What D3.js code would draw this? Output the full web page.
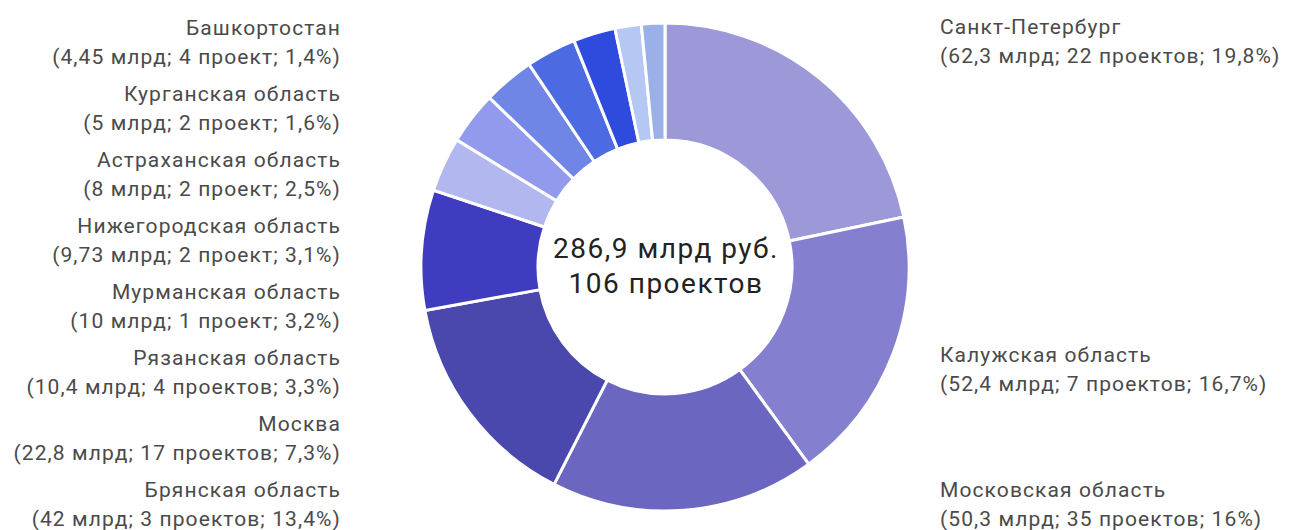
<!DOCTYPE html>
<html>
<head>
<meta charset="utf-8">
<script src="https://cdn.jsdelivr.net/npm/d3@7"></script>
<style>
  body { margin: 0; background: #fff; }
  svg text { font-family: Roboto, "Noto Sans", sans-serif; }
</style>
</head>
<body>
<svg id="chart" width="1293" height="530"></svg>
<script>
// clockwise from 12 o'clock, the 9th slice has no caption in the source
var regions = ["Санкт-Петербург", "Калужская область", "Московская область", "Брянская область", "Москва",
  "Рязанская область", "Мурманская область", "Нижегородская область", "", "Астраханская область",
  "Курганская область", "Башкортостан"]
var amounts = [62.3, 52.4, 50.3, 42, 22.8, 10.4, 10, 9.73, 9.52, 8, 5, 4.45]
var amountText = ["62,3", "52,4", "50,3", "42", "22,8", "10,4", "10", "9,73", "", "8", "5", "4,45"]
var projects = [22, 7, 35, 3, 17, 4, 1, 2, null, 2, 2, 4]
var projectWord = ["проектов", "проектов", "проектов", "проектов", "проектов", "проектов", "проект", "проект", "",
  "проект", "проект", "проект"]
var shares = ["19,8%", "16,7%", "16%", "13,4%", "7,3%", "3,3%", "3,2%", "3,1%", "", "2,5%", "1,6%", "1,4%"]
var colors = ["#9d99d8", "#8480cf", "#6b66c0", "#4a47ad", "#3f3cbf", "#b2b7ef", "#929aed", "#6f86e7",
  "#4c6ae2", "#2f4bdd", "#b5c7f3", "#9ab0e6"]
var totalText = ["286,9 млрд руб.", "106 проектов"]

var leftOrder = [11, 10, 9, 7, 6, 5, 4, 3]
var rightOrder = [0, 1, 2]

var svg = d3.select("#chart")
var cx = 665, cy = 267
var outerR = 244, innerR = 127

var pie = d3.pie().sort(null).value(function(d) { return d })
var arc = d3.arc().innerRadius(innerR).outerRadius(outerR)

var g = svg.append("g").attr("transform", "translate(" + cx + "," + cy + ")")

g.selectAll("path")
  .data(pie(amounts))
  .enter().append("path")
  .attr("d", arc)
  .attr("fill", function(d, i) { return colors[i] })
  .attr("stroke", "#fff")
  .attr("stroke-width", 3)

g.selectAll(".total")
  .data(totalText)
  .enter().append("text")
  .attr("class", "total")
  .attr("text-anchor", "middle")
  .attr("x", 1)
  .attr("y", function(d, i) { return -19 + i * 35 })
  .attr("dy", "0.35em")
  .style("font-size", "28px")
  .style("letter-spacing", "1.5px")
  .style("fill", "#222")
  .text(function(d) { return d })

function captionLine2(i) {
  return "(" + amountText[i] + " млрд; " + projects[i] + " " + projectWord[i] + "; " + shares[i] + ")"
}

function drawLabel(i, x, y, anchor) {
  var t = svg.append("text")
    .attr("text-anchor", anchor)
    .style("font-size", "21px")
    .style("letter-spacing", "1.1px")
    .style("fill", "#4a4a4a")
  t.append("tspan").attr("x", x).attr("y", y).attr("dy", "0.35em").text(regions[i])
  t.append("tspan").attr("x", x).attr("y", y + 29).attr("dy", "0.35em").text(captionLine2(i))
}

leftOrder.forEach(function(i, k) {
  drawLabel(i, 341, 28 + k * 66, "end")
})

var rightY = [27, 355, 490]
rightOrder.forEach(function(i, k) {
  drawLabel(i, 940, rightY[k], "start")
})
</script>
</body>
</html>
